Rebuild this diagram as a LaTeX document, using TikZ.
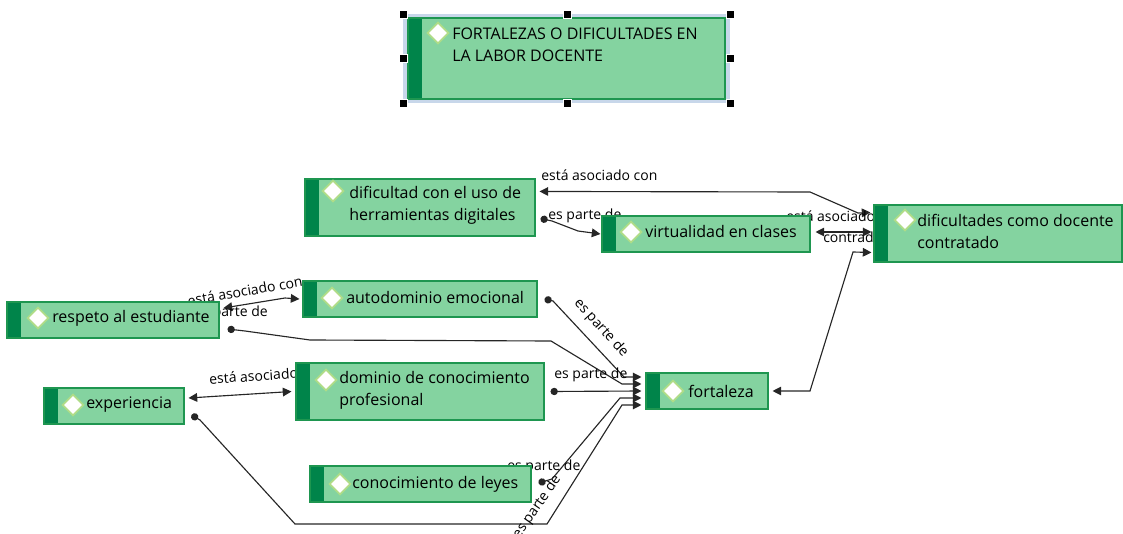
\documentclass[tikz,border=0pt]{standalone}
\usepackage{fontspec}
\setmainfont{Open Sans}
\usetikzlibrary{arrows.meta,shapes.geometric,fit,calc,backgrounds}
\definecolor{boxfill}{RGB}{132,211,160}
\definecolor{boxstrip}{RGB}{0,132,74}
\definecolor{boxline}{RGB}{30,150,80}
\definecolor{diamline}{RGB}{175,220,135}
\definecolor{selfill}{RGB}{200,215,234}
\begin{document}
\begin{tikzpicture}[x=0.75pt,y=-0.75pt,
  concept/.style={draw=boxline, line width=0.8pt, fill=boxfill, inner sep=0pt, rectangle,
    path picture={\fill[boxstrip] (path picture bounding box.north west) rectangle ([xshift=10.5pt]path picture bounding box.south west);}},
  ctext/.style={anchor=west, align=left, inner sep=0pt, font=\fontsize{12}{16.5}\selectfont, text=black},
  diam/.style={diamond, draw=diamline, fill=white, line width=1.3pt, minimum size=16pt, inner sep=0pt},
  lbl/.style={inner sep=0pt, font=\fontsize{10.5}{12}\selectfont, text=black},
  conn/.style={draw=black!85, line width=0.85pt},
  handle/.style={draw=white, fill=black, line width=0.4pt, minimum size=6pt, inner sep=0pt, rectangle},
  >={Triangle[length=6.5pt,width=6.5pt]},
  dotarrow/.style={{Circle[length=5.5pt]}-{Triangle[length=6.5pt,width=6.5pt]}},
]
\useasboundingbox (0,0) rectangle (1123,534);

% title selection frame
\node[fill=selfill, inner sep=0pt, fit={(403,14) (730,103)}] (sel) {};
\node[concept, fit={(408,18) (725,99)}] (title) {};
\node[diam] (dTitle) at (438,33) {};
\node[ctext] (tTitle) at (452,45) {FORTALEZAS O DIFICULTADES EN\\LA LABOR DOCENTE};
\foreach \hx/\hy [count=\i] in {403/14,567/14,730/14,403/58,730/58,403/103,567/103,730/103}
  \node[handle] (h\i) at (\hx,\hy) {};

% concept boxes
\node[concept, fit={(305,179) (535,236)}] (dif) {};
\node[diam] (dDif) at (333,191) {};
\node[ctext] (tDif) at (349,205) {dificultad con el uso de\\herramientas digitales};

\node[concept, fit={(602,216) (810,252)}] (virt) {};
\node[diam] (dVirt) at (631,232) {};
\node[ctext] (tVirt) at (645,232) {virtualidad en clases};

\node[concept, fit={(874,205) (1122,262)}] (cont) {};
\node[diam] (dCont) at (905,220) {};
\node[ctext] (tCont) at (917,231) {dificultades como docente\\contratado};

\node[concept, fit={(7,302) (219,338)}] (resp) {};
\node[diam] (dResp) at (38,318) {};
\node[ctext] (tResp) at (52,318) {respeto al estudiante};

\node[concept, fit={(303,281) (537,317)}] (auto) {};
\node[diam] (dAuto) at (332,298) {};
\node[ctext] (tAuto) at (346,298) {autodominio emocional};

\node[concept, fit={(44,388) (184,424)}] (exp) {};
\node[diam] (dExp) at (73,405) {};
\node[ctext] (tExp) at (86,405) {experiencia};

\node[concept, fit={(296,363) (544,420)}] (dom) {};
\node[diam] (dDom) at (326,380) {};
\node[ctext] (tDom) at (339,390) {dominio de conocimiento\\profesional};

\node[concept, fit={(646,373) (768,409)}] (fort) {};
\node[diam] (dFort) at (673,391) {};
\node[ctext] (tFort) at (688,391) {fortaleza};

\node[concept, fit={(310,466) (531,502)}] (ley) {};
\node[diam] (dLey) at (340,484) {};
\node[ctext] (tLey) at (352,484) {conocimiento de leyes};

% connectors and labels behind the boxes
\begin{scope}[on background layer]
  % dificultad <-> dificultades contratado
  \draw[conn,<->] ($(dif.north east)+(4,13)$) -- (810,192) -- (858,213) -- ($(cont.north west)+(-3,8)$);
  \node[lbl,anchor=west] (lA) at (541,175) {está asociado con};
  % dificultad -> virtualidad
  \draw[conn,dotarrow] ($(dif.north east)+(5,40)$) -- (552,221) -- (578,231) -- ($(virt.west)+(-1,0)$);
  \node[lbl,anchor=west] (lB) at (548,216) {es parte de};
  % virtualidad <-> contratado
  \draw[conn,<->] ($(virt.east)+(5,-2)$) -- ($(cont.west)+(-2,-1.5)$);
  \node[lbl,anchor=west] (lC1) at (786,216) {está asociado con};
  \node[lbl,anchor=west] (lC2) at (823,237) {contradice};
  % respeto <-> autodominio
  \draw[conn,<->] ($(resp.east)+(4,-12)$) -- (285,298) -- ($(auto.west)+(-3,0)$);
  \node[lbl,rotate=10] (lD) at (245,291) {está asociado con};
  % respeto -> fortaleza
  \draw[conn,dotarrow] ($(resp.east)+(8,9)$) -- (245,331) -- (310,340) -- (551,341) -- (622,384) -- ($(fort.west)+(-4,-7)$);
  \node[lbl,anchor=east] (lE) at (268,313) {es parte de};
  % autodominio -> fortaleza
  \draw[conn,dotarrow] ($(auto.east)+(7,0)$) -- (553,301) -- (624,377) -- ($(fort.west)+(-4,-14)$);
  \node[lbl,rotate=-48] (lF) at (601,328) {es parte de};
  % dominio -> fortaleza
  \draw[conn,dotarrow] ($(dom.east)+(6,0)$) -- ($(fort.west)+(-4,0)$);
  \node[lbl,anchor=west] (lG) at (554,375) {es parte de};
  % experiencia <-> dominio
  \draw[conn,<->] ($(exp.east)+(4,-8)$) -- ($(dom.west)+(-4,0)$);
  \node[lbl,anchor=west,rotate=4] (lH) at (209,379) {está asociado con};
  % experiencia -> fortaleza
  \draw[conn,dotarrow] ($(exp.east)+(7,9)$) -- (200,420) -- (295,524) -- (547,524) -- (622,405) -- ($(fort.west)+(-4,14)$);
  \node[lbl,rotate=55] (lI) at (537,507) {es parte de};
  % leyes -> fortaleza
  \draw[conn,dotarrow] ($(ley.east)+(7,-1)$) -- (552,479) -- (620,398) -- ($(fort.west)+(-4,7)$);
  \node[lbl,anchor=west] (lJ) at (507,467) {es parte de};
  % fortaleza <-> contratado
  \draw[conn,<->] ($(fort.east)+(4,0)$) -- (810,391) -- (853,252) -- ($(cont.west)+(-2,19)$);
\end{scope}
\end{tikzpicture}
\end{document}
